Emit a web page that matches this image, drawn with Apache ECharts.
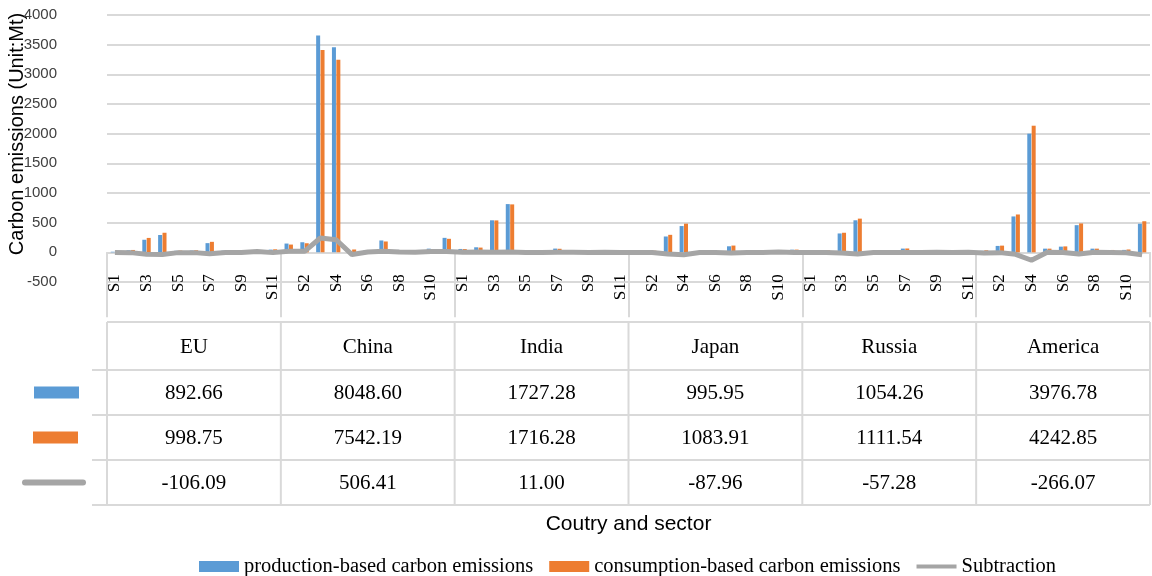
<!DOCTYPE html>
<html>
<head>
<meta charset="utf-8">
<script src="https://cdn.jsdelivr.net/npm/echarts@6/dist/echarts.min.js"></script>
<style>
  html, body { margin: 0; padding: 0; background: #ffffff; }
  #chart { width: 1152px; height: 576px; }
</style>
</head>
<body>
<div id="chart"></div>
<script>
// Countries and their eleven sectors
const countries = ['EU', 'China', 'India', 'Japan', 'Russia', 'America'];
const sectors = ['S1', 'S2', 'S3', 'S4', 'S5', 'S6', 'S7', 'S8', 'S9', 'S10', 'S11'];

// Production-based carbon emissions by sector (Mt)
const prodEU      = [10, 35, 212, 292, 25, 30, 155, 28, 20, 40, 46];
const prodChina   = [148, 170, 3653, 3456, 10, 35, 200, 40, 30, 62, 244];
const prodIndia   = [57, 85, 540, 813, 30, 28, 63, 32, 25, 30, 24];
const prodJapan   = [20, 25, 267, 443, 18, 22, 102, 20, 15, 19, 45];
const prodRussia  = [25, 30, 318, 540, 20, 18, 63, 12, 10, 8, 10];
const prodAmerica = [25, 108, 605, 2000, 62, 96, 458, 62, 38, 41, 482];

// Consumption-based carbon emissions by sector (Mt)
const consEU      = [12, 40, 243, 330, 30, 35, 177, 32, 22, 27, 51];
const consChina   = [131, 153, 3412, 3244, 48, 30, 183, 35, 28, 50, 228];
const consIndia   = [55, 80, 538, 808, 32, 30, 60, 30, 27, 30, 26];
const consJapan   = [22, 27, 295, 483, 20, 24, 114, 22, 16, 15, 46];
const consRussia  = [27, 34, 330, 568, 24, 20, 65, 14, 10, 9, 10];
const consAmerica = [35, 113, 638, 2134, 62, 100, 487, 62, 40, 48, 524];

// Production minus consumption by sector (Mt)
const subEU      = [-2, -5, -31, -38, -5, -5, -22, -4, -2, 13, -5];
const subChina   = [17, 17, 241, 212, -38, 5, 17, 5, 2, 12, 16];
const subIndia   = [2, 5, 2, 5, -2, -2, 3, 2, -2, 0, -2];
const subJapan   = [-2, -2, -28, -40, -2, -2, -12, -2, -1, 4, -1];
const subRussia  = [-2, -4, -12, -28, -4, -2, -2, -2, 0, -1, 0];
const subAmerica = [-10, -5, -33, -134, 0, -4, -29, 0, -2, -7, -42];

// Country totals shown in the data table
const totalProduction  = ['892.66', '8048.60', '1727.28', '995.95', '1054.26', '3976.78'];
const totalConsumption = ['998.75', '7542.19', '1716.28', '1083.91', '1111.54', '4242.85'];
const totalSubtraction = ['-106.09', '506.41', '11.00', '-87.96', '-57.28', '-266.07'];

const seriesNames = ['production-based carbon emissions', 'consumption-based carbon emissions', 'Subtraction'];

const categories = countries.flatMap(() => sectors);
const production = [].concat(prodEU, prodChina, prodIndia, prodJapan, prodRussia, prodAmerica);
const consumption = [].concat(consEU, consChina, consIndia, consJapan, consRussia, consAmerica);
const subtraction = [].concat(subEU, subChina, subIndia, subJapan, subRussia, subAmerica);

const BLUE = '#5B9BD5', ORANGE = '#ED7D31', GRAY = '#A5A5A5', RULE = '#D9D9D9';
const SERIF = '"Liberation Serif", "Times New Roman", serif';
const SANS = '"Liberation Sans", Arial, sans-serif';

const chart = echarts.init(document.getElementById('chart'), null, { renderer: 'canvas' });

chart.setOption({
  animation: false,
  backgroundColor: '#ffffff',
  grid: { left: 107, right: 2, top: 15, bottom: 294, containLabel: false },
  legend: {
    top: 551,
    left: 194,
    itemWidth: 40,
    itemHeight: 11,
    itemGap: 16,
    symbolKeepAspect: true,
    textStyle: { fontFamily: SERIF, fontSize: 20.5, color: '#000' },
    data: [
      { name: seriesNames[0], icon: 'rect' },
      { name: seriesNames[1], icon: 'rect' },
      { name: seriesNames[2], icon: 'path://M0,0 L40,0 L40,4 L0,4 Z', itemStyle: { color: GRAY } }
    ]
  },
  xAxis: {
    // zero line with the country group separators
    type: 'category',
    data: categories,
    boundaryGap: true,
    axisLine: { show: true, onZero: true, lineStyle: { color: RULE, width: 2 } },
    axisTick: {
      show: true,
      interval: (i) => i % sectors.length === 0,
      length: 65,
      lineStyle: { color: RULE, width: 2 }
    },
    axisLabel: { show: false },
    splitLine: { show: false }
  },
  yAxis: {
    type: 'value',
    min: -500,
    max: 4000,
    interval: 500,
    axisLine: { show: false },
    axisTick: { show: false },
    axisLabel: {
      margin: 50,
      fontFamily: SANS,
      fontSize: 15,
      color: '#404040',
      formatter: (v) => String(v)
    },
    splitLine: { lineStyle: { color: RULE, width: 2 } }
  },
  series: [
    {
      name: seriesNames[0], type: 'bar', data: production,
      barWidth: 4, barGap: '10%', itemStyle: { color: BLUE }
    },
    {
      name: seriesNames[1], type: 'bar', data: consumption,
      barWidth: 4, barGap: '10%', itemStyle: { color: ORANGE }
    },
    {
      name: seriesNames[2], type: 'line', data: subtraction,
      symbol: 'none', z: 5,
      lineStyle: { color: GRAY, width: 5 }, itemStyle: { color: GRAY }
    }
  ]
});

// Sector labels, data table and axis titles, placed on the category scale
function drawExtras() {
  const x0 = chart.convertToPixel({ xAxisIndex: 0 }, 0);
  const x1 = chart.convertToPixel({ xAxisIndex: 0 }, 1);
  const band = x1 - x0;
  const left = x0 - band / 2;
  const colW = band * sectors.length;
  const right = left + colW * countries.length;
  const zeroY = chart.convertToPixel({ yAxisIndex: 0 }, 0);
  const rows = [322, 370, 415, 460, 505];
  const keyLeft = 92;
  const els = [];

  // every second sector name, hanging below the zero line and reading upwards
  categories.forEach((name, i) => {
    if (i % 2 !== 0) return;
    els.push({
      type: 'text', silent: true,
      x: chart.convertToPixel({ xAxisIndex: 0 }, i), y: zeroY + 22,
      rotation: Math.PI / 2,
      style: { text: name, fontFamily: SERIF, fontSize: 17, fill: '#000', align: 'right', verticalAlign: 'middle' }
    });
  });

  const line = (xa, ya, xb, yb) => ({
    type: 'line', silent: true,
    shape: { x1: xa, y1: ya, x2: xb, y2: yb },
    style: { stroke: RULE, lineWidth: 2 }
  });
  els.push(line(left, rows[0], right, rows[0]));
  for (let r = 1; r < rows.length; r++) els.push(line(keyLeft, rows[r], right, rows[r]));
  for (let c = 0; c <= countries.length; c++) {
    const x = left + colW * c;
    els.push(line(x, rows[0], x, rows[rows.length - 1]));
  }
  const rowTexts = [countries, totalProduction, totalConsumption, totalSubtraction];
  rowTexts.forEach((texts, r) => {
    const yc = (rows[r] + rows[r + 1]) / 2 + 1;
    texts.forEach((t, c) => {
      els.push({
        type: 'text', silent: true,
        x: left + colW * (c + 0.5), y: yc,
        style: { text: t, fontFamily: SERIF, fontSize: 21, fill: '#000', align: 'center', verticalAlign: 'middle' }
      });
    });
  });
  // legend keys in front of the table rows
  const k1 = (rows[1] + rows[2]) / 2, k2 = (rows[2] + rows[3]) / 2, k3 = (rows[3] + rows[4]) / 2;
  els.push({ type: 'rect', silent: true, shape: { x: 34, y: k1 - 6, width: 45, height: 12 }, style: { fill: BLUE } });
  els.push({ type: 'rect', silent: true, shape: { x: 33, y: k2 - 6, width: 45, height: 12 }, style: { fill: ORANGE } });
  els.push({ type: 'line', silent: true, shape: { x1: 25, y1: k3, x2: 83, y2: k3 }, style: { stroke: GRAY, lineWidth: 6, lineCap: 'round' } });
  // axis titles
  els.push({
    type: 'text', silent: true, x: (left + right) / 2, y: 524,
    style: { text: 'Coutry and sector', fontFamily: SANS, fontSize: 21, fill: '#000', align: 'center', verticalAlign: 'middle' }
  });
  els.push({
    type: 'text', silent: true, x: 17, y: 134, rotation: Math.PI / 2,
    style: { text: 'Carbon emissions (Unit:Mt)', fontFamily: SANS, fontSize: 20, fill: '#000', align: 'center', verticalAlign: 'middle' }
  });
  chart.setOption({ graphic: { elements: els } });
}
drawExtras();
</script>
</body>
</html>
